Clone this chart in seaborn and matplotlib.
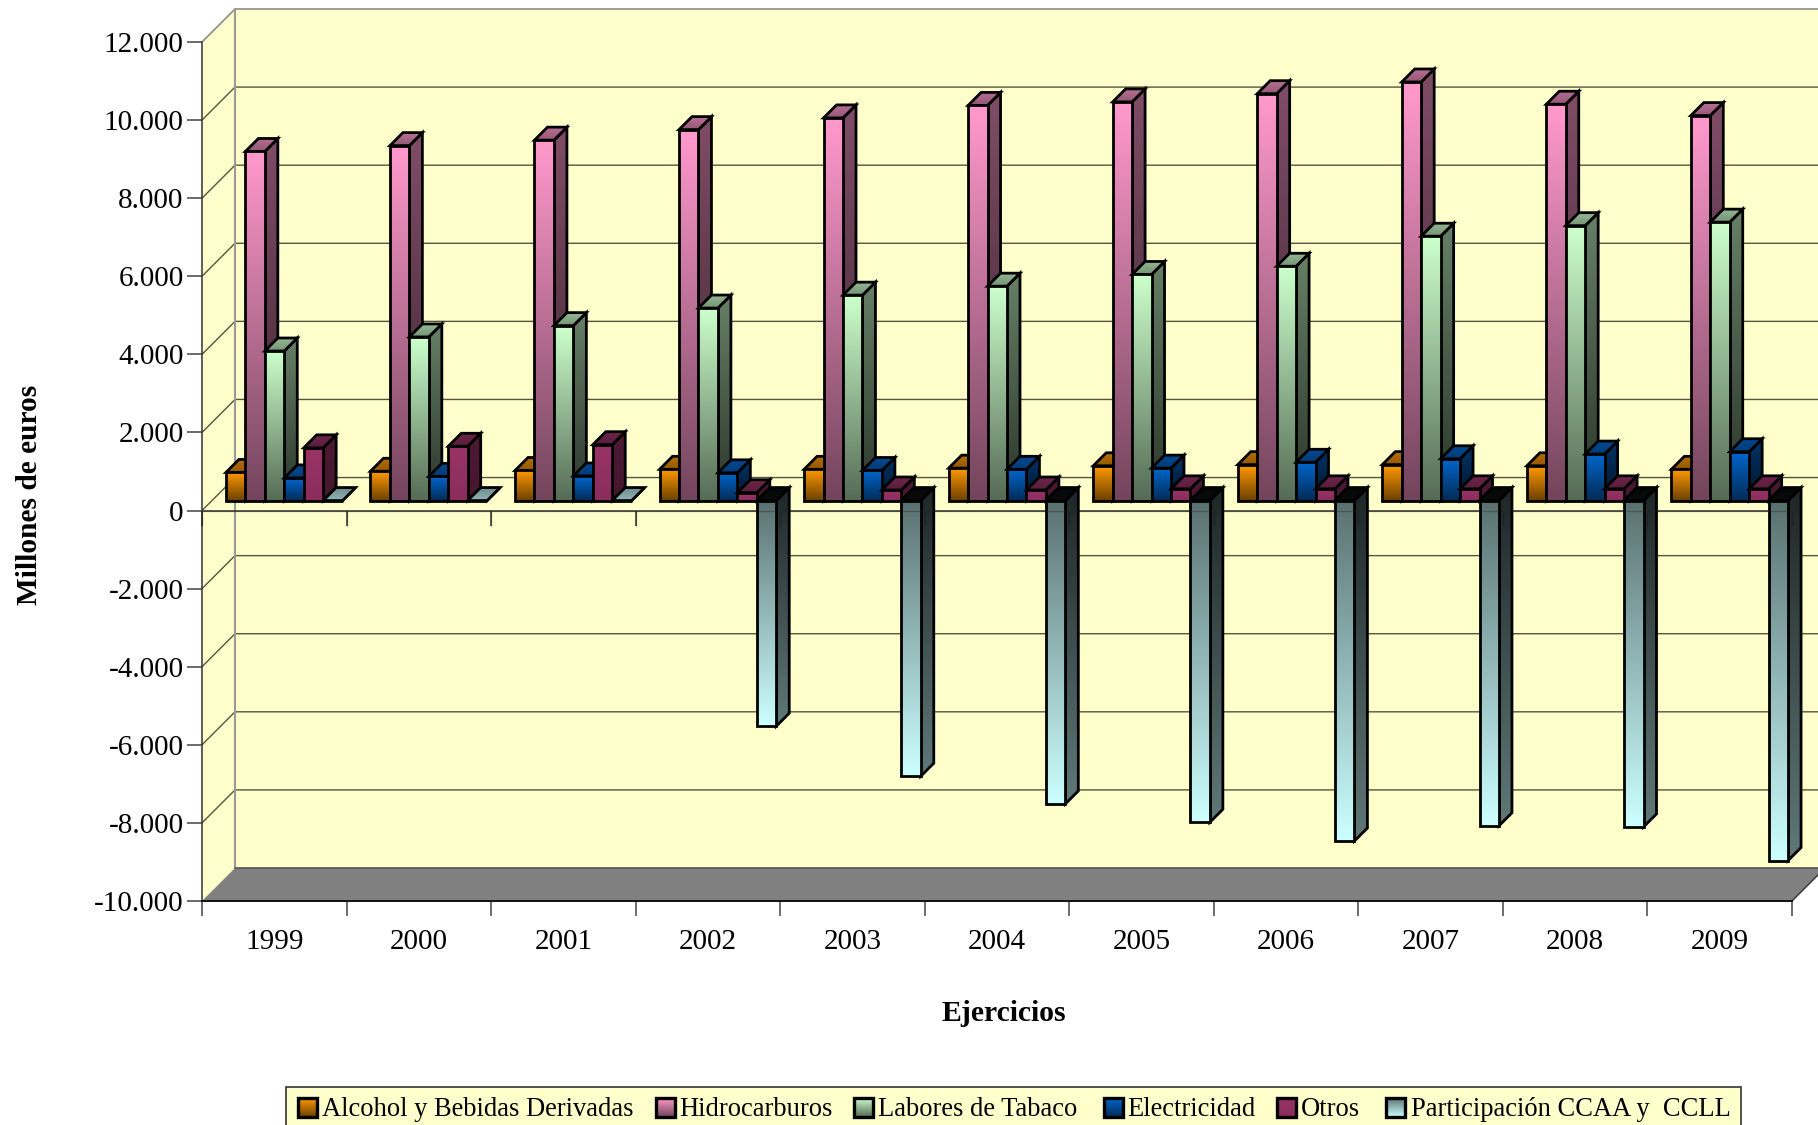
import numpy as np
import pandas as pd
import matplotlib
matplotlib.use('Agg')
import matplotlib.pyplot as plt
from matplotlib.colors import to_rgb
from matplotlib.patches import Polygon, Rectangle
import seaborn as sns

years = ['1999', '2000', '2001', '2002', '2003', '2004', '2005', '2006', '2007', '2008', '2009']
alcohol = [720, 750, 770, 800, 800, 830, 890, 920, 920, 890, 800]
hidrocarburos = [8940, 9090, 9230, 9500, 9800, 10120, 10210, 10420, 10720, 10150, 9860]
tabaco = [3830, 4190, 4480, 4930, 5260, 5490, 5790, 6000, 6770, 7040, 7130]
electricidad = [580, 620, 630, 710, 770, 800, 830, 980, 1070, 1190, 1250]
otros = [1350, 1390, 1430, 200, 270, 270, 300, 300, 300, 300, 300]
participacion = [0, 0, 0, -5780, -7060, -7770, -8240, -8720, -8330, -8360, -9220]

series_names = ['Alcohol y Bebidas Derivadas', 'Hidrocarburos', 'Labores de Tabaco',
                'Electricidad', 'Otros', 'Participación CCAA y  CCLL']
series_values = [alcohol, hidrocarburos, tabaco, electricidad, otros, participacion]
series_colors = ['#FF9900', '#FF99CC', '#CCFFCC', '#0066CC', '#993366', '#CCFFFF']
dark_frac = [0.42, 0.45, 0.42, 0.42, 0.9, 0.42]

y_ticks = list(range(-10000, 12001, 2000))
y_labels = ['-10.000', '-8.000', '-6.000', '-4.000', '-2.000', '0',
            '2.000', '4.000', '6.000', '8.000', '10.000', '12.000']

# legend swatch x and text x, in image pixels
legend_swatch_x = [298, 656, 854, 1104, 1277, 1386]
legend_text_x = [322, 679, 878, 1127, 1301, 1411]

WALL = '#FFFFCC'
W, H = 1818, 1125
LEFT, RIGHT, TOP, BOTTOM = 202, 1792, 42, 901
DX = (RIGHT - LEFT) / 11
PX_Y = 22000 / (BOTTOM - TOP)
LW = 2

sns.set_theme(style='white')
plt.rcParams['font.family'] = ['Liberation Serif', 'DejaVu Serif']

df = pd.DataFrame({
    'year': years * 6,
    'serie': [n for n in series_names for _ in years],
    'value': [v for s in series_values for v in s],
})

fig = plt.figure(figsize=(W / 100, H / 100), dpi=100, facecolor='white')
ax = fig.add_axes([LEFT / W, 1 - BOTTOM / H, (RIGHT - LEFT) / W, (BOTTOM - TOP) / H])
ax.patch.set_alpha(0)

sns.barplot(data=df, x='year', y='value', hue='serie', order=years, hue_order=series_names,
            palette=series_colors, saturation=1, width=0.807, gap=0, legend=False, ax=ax, zorder=3)

ax.set_xlim(-0.5, 10.5)
ax.set_ylim(-10000, 12000)
ax.autoscale(False)


def off_x(px):
    return px / DX


def off_y(px):
    return px * PX_Y


def pos(x, y):
    # image pixels to data coordinates
    return (x - LEFT) / DX - 0.5, (BOTTOM - y) * PX_Y - 10000


def shade(c, f):
    return np.array(to_rgb(c)) * f


def grad_poly(verts, hi, lo, z, lw=LW):
    verts = np.array(verts)
    poly = Polygon(verts, closed=True, fc='none', ec='black', lw=lw, zorder=z + 0.0005,
                   clip_on=False, joinstyle='miter')
    ax.add_patch(poly)
    y0, y1 = verts[:, 1].min(), verts[:, 1].max()
    if y1 - y0 < 1e-6:
        return
    grad = np.linspace(hi, lo, 64)[:, None, :]
    im = ax.imshow(grad, extent=(verts[:, 0].min(), verts[:, 0].max(), y0, y1), origin='upper',
                   aspect='auto', interpolation='bilinear', zorder=z)
    im.set_clip_box(fig.bbox)
    im.set_clip_path(poly)


# walls and floor
wx, wy = off_x(33), off_y(33)
x0, x1 = -0.5, 10.5
ymin, ymax = -10000, 12000
ax.add_patch(Polygon([(x0, ymin), (x0, ymax), (x0 + wx, ymax + wy), (x1 + wx, ymax + wy), (x1 + wx, ymin + wy)],
                     fc=WALL, ec='none', zorder=0.2, clip_on=False))
for t in y_ticks[1:-1]:
    ax.plot([x0, x0 + wx, x1 + wx], [t, t + wy, t + wy], color='#55553f', lw=1, zorder=0.5, clip_on=False)
ax.plot([x0, x0 + wx, x1 + wx], [ymax, ymax + wy, ymax + wy], color='#8c8c8c', lw=1.2, zorder=0.5, clip_on=False)
ax.plot([x0 + wx, x0 + wx], [ymin + wy, ymax + wy], color='#999999', lw=1.5, zorder=0.6, clip_on=False)
ax.add_patch(Polygon([(x0, ymin), (x0 + wx, ymin + wy), (x1 + wx, ymin + wy), (x1, ymin)],
                     fc='#808080', ec='none', zorder=1, clip_on=False))
ax.plot([x0 + wx, x1 + wx], [ymin + wy, ymin + wy], color='#555555', lw=1.2, zorder=1.1, clip_on=False)
ax.plot([x1, x1 + wx], [ymin, ymin + wy], color='#333333', lw=1, zorder=1.1, clip_on=False)

# zero line with its ticks
ax.plot([x0, x1], [0, 0], color='#333333', lw=1.1, zorder=1.5)
ax.vlines(np.arange(-0.5, 11), -off_y(15), 0, color='#333333', lw=1.1, zorder=1.5, clip_on=False)

# bars: seaborn gives the front faces, depth is added per bar
ox, oy = off_x(10), off_y(10)
bx, by = off_x(13), off_y(13)
for j, cont in enumerate(ax.containers):
    c = series_colors[j]
    f = dark_frac[j]
    for i, bar in enumerate(cont):
        z = 3 + (i * 6 + j) * 0.01
        xl = bar.get_x() + ox
        xr = xl + bar.get_width()
        val = bar.get_height() + bar.get_y()
        hi_y = max(val, 0) + oy
        lo_y = min(val, 0) + oy
        if val < 0:
            side_c = (shade(c, 0.15), shade(c, 0.47))
            top_c = (shade(c, 0.03), shade(c, 0.05))
            front_c = (shade(c, f * 1.05), shade(c, 1))
        elif val == 0:
            side_c = (shade(c, 0.6), shade(c, 0.6))
            top_c = (shade(c, 0.55), shade(c, 0.72))
            front_c = (shade(c, 1), shade(c, 1))
        else:
            side_c = (shade(c, 0.5), shade(c, 0.5 * f))
            top_c = (shade(c, 0.72), shade(c, 0.58))
            front_c = (shade(c, 1), shade(c, f))
        grad_poly([(xr, hi_y), (xr + bx, hi_y + by), (xr + bx, lo_y + by), (xr, lo_y)], *side_c, z + 0.001)
        grad_poly([(xl, hi_y), (xl + bx, hi_y + by), (xr + bx, hi_y + by), (xr, hi_y)], *top_c, z + 0.002)
        grad_poly([(xl, hi_y), (xr, hi_y), (xr, lo_y), (xl, lo_y)], *front_c, z + 0.003)
        bar.set_visible(False)

# faint zero line and ticks showing through the long bars
ax.plot([x0, x1], [0, 0], color='#222222', lw=1, alpha=0.35, zorder=4.5)
ax.vlines(np.arange(-0.5, 11), -off_y(15), 0, color='#111111', lw=1, alpha=0.35, zorder=4.5, clip_on=False)

# axes
sns.despine(ax=ax, top=True, right=True)
ax.spines['left'].set_color('#333333')
ax.spines['bottom'].set_color('#111111')
ax.spines['left'].set_linewidth(1.1)
ax.spines['bottom'].set_linewidth(1.4)
ax.spines['left'].set_zorder(2)
ax.spines['bottom'].set_zorder(2)
ax.set_yticks(y_ticks)
ax.set_yticklabels(y_labels, fontsize=21)
ax.set_xticks(np.arange(-0.5, 11))
ax.set_xticklabels([])
ax.set_xticks(np.arange(11), labels=years, minor=True, fontsize=21)
ax.tick_params(axis='y', which='major', left=True, length=10.8, width=1.1, color='#444444', pad=2.5, labelcolor='black')
ax.tick_params(axis='x', which='major', bottom=True, length=10.8, width=1.1, color='#444444')
ax.tick_params(axis='x', which='minor', bottom=True, length=0, pad=20, labelcolor='black')

ax.set_xlabel('Ejercicios', fontsize=21.4, fontweight='bold', color='black', va='top')
ax.xaxis.set_label_coords((1004 - LEFT) / (RIGHT - LEFT), (BOTTOM - 1000) / (BOTTOM - TOP))
ax.set_ylabel('Millones de euros', fontsize=21.2, fontweight='bold', color='black')
ax.yaxis.set_label_coords((43 - LEFT) / (RIGHT - LEFT), (BOTTOM - 495) / (BOTTOM - TOP))

# legend box runs off the bottom of the image
p0 = pos(286, 1087)
p1 = pos(1741, 1140)
ax.add_patch(Rectangle((p0[0], p1[1]), p1[0] - p0[0], p0[1] - p1[1], fc=WALL, ec='#333333', lw=1.2,
                       zorder=6, clip_on=False))
for j, name in enumerate(series_names):
    sx = legend_swatch_x[j]
    a = pos(sx, 1098)
    b = pos(sx + 19, 1117)
    hi, lo = shade(series_colors[j], 1), shade(series_colors[j], dark_frac[j])
    if j == 5:
        hi, lo = shade(series_colors[j], 0.45), shade(series_colors[j], 1)
    grad_poly([(a[0], a[1]), (b[0], a[1]), (b[0], b[1]), (a[0], b[1])], hi, lo, 6.1, lw=2.4)
    tx, ty = pos(legend_text_x[j], 1109)
    ax.text(tx, ty, name, fontsize=19.1, color='black', va='center', ha='left', zorder=6.2, clip_on=False)

fig.savefig('out.png', dpi=100, facecolor='white')
